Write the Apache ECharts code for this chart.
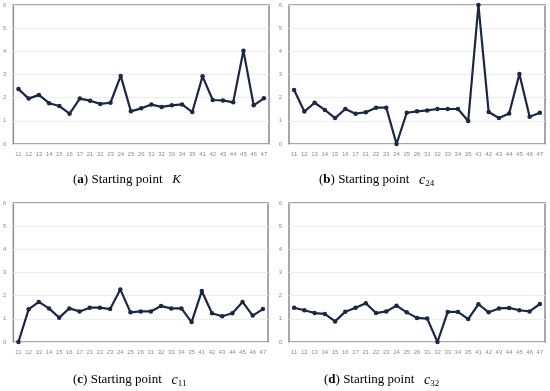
<!DOCTYPE html>
<html><head><meta charset="utf-8">
<script src="https://cdn.jsdelivr.net/npm/echarts@6/dist/echarts.min.js"></script>
<style>html,body{margin:0;padding:0;background:#fff}#c{width:550px;height:391px}</style>
</head><body><div id="c"></div>
<script>
var categories = ['11','12','13','14','15','16','17','21','22','23','24','25','26','31','32','33','34','35','41','42','43','44','45','46','47'];
var yTicks = [0,1,2,3,4,5,6];
var seriesA = [2.37,1.96,2.12,1.76,1.64,1.31,1.96,1.87,1.73,1.78,2.94,1.41,1.54,1.70,1.60,1.67,1.71,1.38,2.92,1.90,1.88,1.80,4.03,1.67,1.97];
var seriesB = [2.33,1.40,1.78,1.47,1.12,1.51,1.31,1.37,1.57,1.57,0,1.35,1.41,1.45,1.51,1.51,1.51,0.99,6.0,1.38,1.12,1.32,3.02,1.18,1.35];
var seriesC = [0,1.41,1.73,1.45,1.05,1.45,1.32,1.48,1.48,1.42,2.27,1.28,1.32,1.32,1.55,1.45,1.45,0.86,2.20,1.24,1.11,1.24,1.73,1.14,1.42];
var seriesD = [1.48,1.37,1.25,1.21,0.89,1.31,1.48,1.67,1.25,1.32,1.57,1.28,1.04,1.01,0,1.30,1.30,0.99,1.63,1.28,1.45,1.47,1.37,1.32,1.64];
var allSeries = [seriesA, seriesB, seriesC, seriesD];
var grids = [
  {left:12, top:5, width:257, height:139},
  {left:289, top:5, width:256, height:139},
  {left:13, top:203, width:255, height:139},
  {left:289, top:203, width:256, height:139}
];
var chart = echarts.init(document.getElementById('c'));
var option = {
  animation:false,
  grid: grids.map(function(g){return Object.assign({show:true, borderColor:'#8a8a8a', borderWidth:1.5, backgroundColor:'#fff', containLabel:false}, g);}),
  xAxis: grids.map(function(g,i){return {
    type:'category', gridIndex:i, data:categories, boundaryGap:true,
    axisLine:{show:false}, axisTick:{show:false},
    axisLabel:{interval:0, fontSize:6, color:'#8c8c8c', margin:7, fontFamily:'Liberation Sans'}
  };}),
  yAxis: grids.map(function(g,i){return {
    type:'value', gridIndex:i, min:yTicks[0], max:yTicks[yTicks.length-1], interval:1,
    axisLine:{show:false}, axisTick:{show:false},
    splitLine:{lineStyle:{color:'#ececec', width:1}},
    axisLabel:{fontSize:6, color:'#8c8c8c', margin:7, fontFamily:'Liberation Sans'}
  };}),
  series: allSeries.map(function(d,i){return {
    type:'line', xAxisIndex:i, yAxisIndex:i, data:d,
    symbol:'circle', symbolSize:4.5,
    lineStyle:{color:'#1b2747', width:2.2},
    itemStyle:{color:'#1b2747'}
  };}),
  graphic: [
    {type:'text', left:73, top:173, style:{rich:{b:{fontFamily:'Liberation Serif',fontSize:13,fontWeight:'bold',fill:'#000'},n:{fontFamily:'Liberation Serif',fontSize:13,fill:'#000'},i:{fontFamily:'Liberation Serif',fontSize:13,fontStyle:'italic',fill:'#000'}}, text:'{n|(}{b|a}{n|) Starting point   }{i|K}'}},
    {type:'text', left:319, top:173, style:{rich:{b:{fontFamily:'Liberation Serif',fontSize:13,fontWeight:'bold',fill:'#000'},n:{fontFamily:'Liberation Serif',fontSize:13,fill:'#000'},i:{fontFamily:'Liberation Serif',fontSize:14,fontStyle:'italic',fill:'#000'},s:{fontFamily:'Liberation Serif',fontSize:9,fill:'#000',padding:[8,0,0,0]}}, text:'{n|(}{b|b}{n|) Starting point   }{i|c}{s|24}'}},
    {type:'text', left:73, top:373, style:{rich:{b:{fontFamily:'Liberation Serif',fontSize:13,fontWeight:'bold',fill:'#000'},n:{fontFamily:'Liberation Serif',fontSize:13,fill:'#000'},i:{fontFamily:'Liberation Serif',fontSize:14,fontStyle:'italic',fill:'#000'},s:{fontFamily:'Liberation Serif',fontSize:9,fill:'#000',padding:[8,0,0,0]}}, text:'{n|(}{b|c}{n|) Starting point   }{i|c}{s|11}'}},
    {type:'text', left:324, top:373, style:{rich:{b:{fontFamily:'Liberation Serif',fontSize:13,fontWeight:'bold',fill:'#000'},n:{fontFamily:'Liberation Serif',fontSize:13,fill:'#000'},i:{fontFamily:'Liberation Serif',fontSize:14,fontStyle:'italic',fill:'#000'},s:{fontFamily:'Liberation Serif',fontSize:9,fill:'#000',padding:[8,0,0,0]}}, text:'{n|(}{b|d}{n|) Starting point   }{i|c}{s|32}'}}
  ]
};
chart.setOption(option);
</script>
</body></html>
